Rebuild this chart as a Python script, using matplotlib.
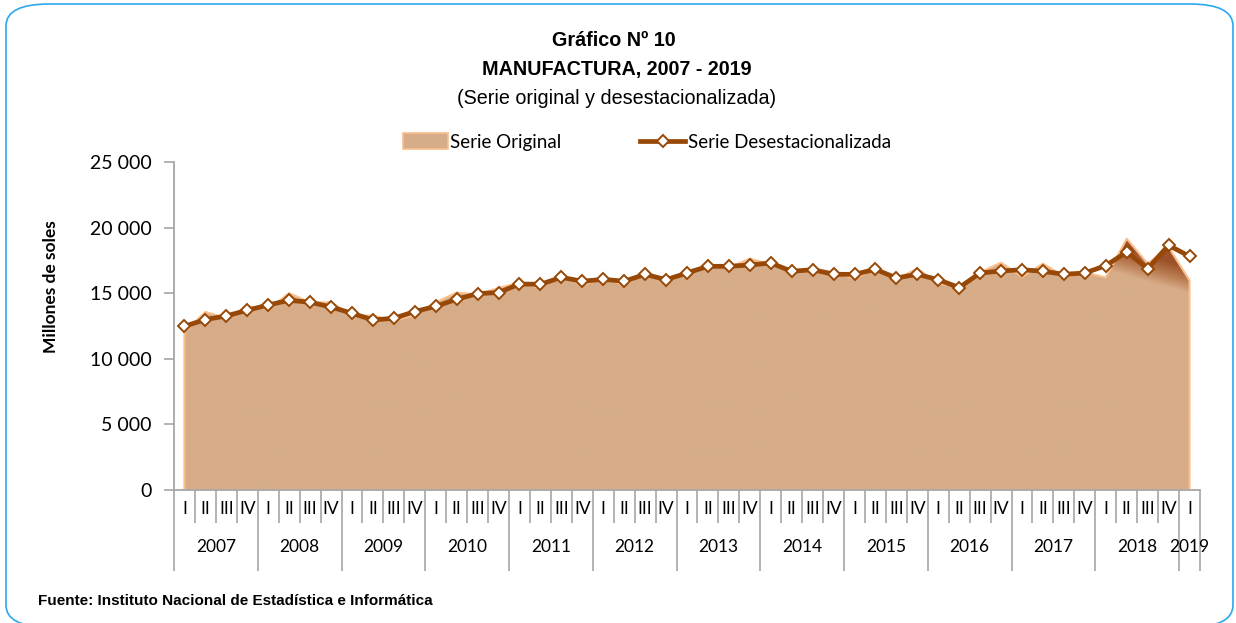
import numpy as np
import matplotlib
matplotlib.use("Agg")
import matplotlib.pyplot as plt
from matplotlib.patches import FancyBboxPatch, Patch
from matplotlib.lines import Line2D
from matplotlib.colors import LinearSegmentedColormap

# Manufactura, quarterly, millions of soles (2007 Q1 - 2019 Q1)
years = ['2007', '2008', '2009', '2010', '2011', '2012', '2013',
         '2014', '2015', '2016', '2017', '2018', '2019']
quarters = ['I', 'II', 'III', 'IV'] * 12 + ['I']

serie_original = [12050, 13570, 13100, 14000, 13800, 15000, 14300, 14300,
                  13300, 13300, 12900, 13300, 14300, 15050, 14900, 15400,
                  15800, 15400, 16400, 15600, 16200, 15600, 16600, 15700,
                  16700, 17100, 16950, 17630, 17200, 16700, 16900, 16600,
                  16110, 16900, 16100, 16870, 15730, 15500, 16600, 17330,
                  16230, 17250, 16300, 16600, 16190, 19150, 17250, 18500,
                  15980]
serie_desest = [12480, 12990, 13270, 13700, 14100, 14460, 14310, 13950,
                13470, 12960, 13090, 13600, 14000, 14540, 14970, 15050,
                15700, 15680, 16210, 15910, 16060, 15910, 16440, 16030,
                16540, 17050, 17050, 17150, 17300, 16670, 16790, 16440,
                16440, 16820, 16160, 16440, 16030, 15430, 16540, 16690,
                16790, 16670, 16440, 16540, 17100, 18140, 16870, 18650,
                17810]

y_ticks = [0, 5000, 10000, 15000, 20000, 25000]

TITLE_FONT = ['Liberation Sans', 'DejaVu Sans']
BODY_FONT = ['Lato', 'DejaVu Sans']
GREY = '#A6A6A6'
BROWN = '#974806'
TAN = '#D7AC88'

W, H = 1236, 623
fig = plt.figure(figsize=(W / 100, H / 100), dpi=100)

# rounded blue frame around the whole chart (bottom edge runs off the page)
frame = FancyBboxPatch((6 / W, -4 / H), 1227 / W, 623 / H,
                       boxstyle='round,pad=0,rounding_size=0.035',
                       transform=fig.transFigure, fill=False,
                       edgecolor='#2AA7EE', linewidth=1.2, clip_on=False)
fig.patches.append(frame)

ax = fig.add_axes([174 / W, (H - 490) / H, 1026 / W, 328 / H])
n = len(serie_original)
x = np.arange(n)

# area with a gradient that darkens towards the 2018 peaks, clipped to the polygon
area = ax.fill_between(x, 0, serie_original, facecolor='none',
                       edgecolor='#F9BF8C', linewidth=1.5, zorder=2)
cmap = LinearSegmentedColormap.from_list('manu', [TAN, '#B97A50', '#9C5128'])
gx, gy = np.meshgrid(np.linspace(-0.5, n - 0.5, 300), np.linspace(0, 20000, 400))
grad = np.clip((gy - 16800 + 450 * (gx - 44)) / 2000, 0, 1)
img = ax.imshow(grad, cmap=cmap, vmin=0, vmax=1, origin='lower', aspect='auto',
                extent=(-0.5, n - 0.5, 0, 20000), zorder=1, interpolation='bilinear')
img.set_clip_path(area.get_paths()[0], transform=ax.transData)

ax.plot(x, serie_desest, color=BROWN, linewidth=3.4, marker='D', markersize=6.5,
        markerfacecolor='white', markeredgecolor=BROWN, markeredgewidth=1.4,
        zorder=3, solid_joinstyle='round')

ax.set_xlim(-0.5, n - 0.5)
ax.set_ylim(0, 25000)
ax.set_yticks(y_ticks)
ax.set_yticklabels([f'{v:,}'.replace(',', ' ') for v in y_ticks],
                   fontsize=14, family=BODY_FONT)
ax.tick_params(axis='y', length=7, width=1.2, color=GREY, pad=9)

for side in ['top', 'right']:
    ax.spines[side].set_visible(False)
for side in ['left', 'bottom']:
    ax.spines[side].set_color(GREY)
    ax.spines[side].set_linewidth(1.3)

# two-level category axis: quarters inside years
year_edges = list(np.arange(-0.5, n - 1, 4)) + [n - 0.5]
ax.set_xticks(year_edges)
ax.set_xticklabels([])
ax.set_xticks(np.arange(-0.5, n), minor=True)
ax.tick_params(axis='x', which='major', length=58, width=1.2, color=GREY)
ax.tick_params(axis='x', which='minor', length=24, width=1.2, color=GREY)

xt = ax.get_xaxis_transform()
for i, q in enumerate(quarters):
    ax.text(i, -0.058, q, transform=xt, ha='center', va='center',
            fontsize=12.5, family=BODY_FONT)
for k, yr in enumerate(years):
    lo = k * 4
    hi = min(lo + 3, n - 1)
    ax.text((lo + hi) / 2, -0.174, yr, transform=xt, ha='center',
            va='center', fontsize=12.5, family=BODY_FONT)

ax.set_ylabel('Millones de soles', fontsize=12.5, fontweight='bold',
              family=BODY_FONT)
ax.yaxis.set_label_coords(-115 / 1026, 0.62)

fig.text(614 / W, 1 - 40 / H, 'Gráfico Nº 10', ha='center', va='center',
         fontsize=14.2, fontweight='bold', family=TITLE_FONT)
fig.text(617 / W, 1 - 69 / H, 'MANUFACTURA, 2007 - 2019', ha='center',
         va='center', fontsize=14.2, fontweight='bold', family=TITLE_FONT)
fig.text(617 / W, 1 - 99 / H, '(Serie original y desestacionalizada)',
         ha='center', va='center', fontsize=14.2, family=TITLE_FONT)

handles = [Patch(facecolor=TAN, edgecolor='#F9BF8C', linewidth=1.2),
           Line2D([], [], color=BROWN, linewidth=3.4, marker='D',
                  markersize=6.5, markerfacecolor='white',
                  markeredgecolor=BROWN, markeredgewidth=1.4)]
fig.legend(handles, ['Serie Original', 'Serie Desestacionalizada'],
           loc='center', bbox_to_anchor=(647 / W, 1 - 142 / H), ncol=2,
           frameon=False, prop={'family': BODY_FONT, 'size': 13.5},
           handlelength=2.4, handletextpad=0.15, columnspacing=4.2,
           handleheight=0.9)

fig.text(38 / W, 1 - 601 / H, 'Fuente: Instituto Nacional de Estadística e Informática',
         ha='left', va='center', fontsize=11, fontweight='bold',
         family=TITLE_FONT)

fig.savefig('out.png', dpi=100)
